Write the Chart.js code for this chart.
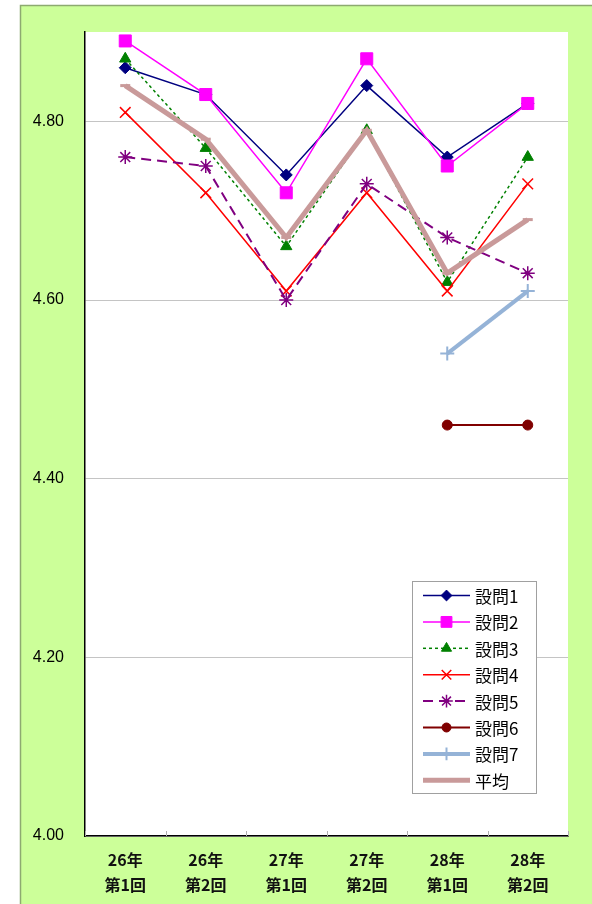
<!DOCTYPE html>
<html>
<head>
<meta charset="utf-8">
<script src="https://cdn.jsdelivr.net/npm/chart.js@4/dist/chart.umd.min.js"></script>
<style>
  html, body { margin: 0; padding: 0; background: #ffffff; }
  #wrap { position: relative; width: 592px; height: 904px; }
</style>
</head>
<body>
<div id="wrap"><canvas id="c" width="592" height="904"></canvas></div>
<script>
// ---- data ----
const categories = [
  ['26年', '第1回'], ['26年', '第2回'],
  ['27年', '第1回'], ['27年', '第2回'],
  ['28年', '第1回'], ['28年', '第2回']
];
const seriesNames = ['設問1', '設問2', '設問3', '設問4', '設問5', '設問6', '設問7', '平均'];
const q1 = [4.86, 4.83, 4.74, 4.84, 4.76, 4.82];
const q2 = [4.89, 4.83, 4.72, 4.87, 4.75, 4.82];
const q3 = [4.87, 4.77, 4.66, 4.79, 4.62, 4.76];
const q4 = [4.81, 4.72, 4.61, 4.72, 4.61, 4.73];
const q5 = [4.76, 4.75, 4.60, 4.73, 4.67, 4.63];
const q6 = [null, null, null, null, 4.46, 4.46];
const q7 = [null, null, null, null, 4.54, 4.61];
const avg = [4.84, 4.78, 4.67, 4.79, 4.63, 4.69];
const yTickValues = [4.00, 4.20, 4.40, 4.60, 4.80];
const yMin = 4.00, yMax = 4.90;

// ---- styles ----
const styles = [
  { color: '#000080', width: 1.5, dash: [],     point: 'rectRot',  radius: 6,   pbw: 1 },
  { color: '#FF00FF', width: 1.5, dash: [],     point: 'rect',     radius: 8.5, pbw: 1 },
  { color: '#008000', width: 1.5, dash: [3, 3], point: 'triangle', radius: 6.5, pbw: 1 },
  { color: '#FF0000', width: 1.5, dash: [],     point: 'crossRot', radius: 7.5, pbw: 1.5 },
  { color: '#800080', width: 2,   dash: [10, 6], point: 'star',    radius: 7,   pbw: 1.5 },
  { color: '#800000', width: 2,   dash: [],     point: 'circle',   radius: 5,   pbw: 1 },
  { color: '#95B3D7', width: 4,   dash: [],     point: 'cross',    radius: 7,   pbw: 2 },
  { color: '#C99A9A', width: 5,   dash: [],     point: 'line',     radius: 5,   pbw: 3 }
];
const seriesData = [q1, q2, q3, q4, q5, q6, q7, avg];

const datasets = seriesData.map((d, i) => ({
  label: seriesNames[i],
  data: d,
  borderColor: styles[i].color,
  backgroundColor: styles[i].color,
  borderWidth: styles[i].width,
  borderDash: styles[i].dash,
  pointStyle: styles[i].point,
  pointRadius: styles[i].radius,
  pointHoverRadius: styles[i].radius,
  pointBorderWidth: styles[i].pbw,
  pointBackgroundColor: styles[i].color,
  pointBorderColor: styles[i].color,
  tension: 0,
  spanGaps: false,
  order: 100 - i
}));

const bgPlugin = {
  id: 'bg',
  beforeDraw(chart) {
    const ctx = chart.ctx;
    const ca = chart.chartArea;
    ctx.save();
    ctx.fillStyle = '#ffffff';
    ctx.fillRect(0, 0, chart.width, chart.height);
    ctx.fillStyle = '#CCFF99';
    ctx.fillRect(20, 5, chart.width - 20, chart.height - 5);
    ctx.strokeStyle = '#8DAA70';
    ctx.lineWidth = 1.5;
    ctx.beginPath();
    ctx.moveTo(20.5, chart.height);
    ctx.lineTo(20.5, 5.5);
    ctx.lineTo(chart.width, 5.5);
    ctx.stroke();
    ctx.fillStyle = '#ffffff';
    ctx.fillRect(ca.left, ca.top, ca.right - ca.left, ca.bottom - ca.top);
    ctx.restore();
  },
  afterDatasetsDraw(chart) {
    // short inside tick marks on the category axis (at category boundaries)
    const ctx = chart.ctx;
    const xs = chart.scales.x;
    ctx.save();
    ctx.strokeStyle = '#b0b0b0';
    ctx.lineWidth = 1;
    for (let i = 0; i <= categories.length; i++) {
      const x = Math.round(xs.getPixelForValue(i - 0.5)) + 0.5;
      ctx.beginPath();
      ctx.moveTo(x, xs.top);
      ctx.lineTo(x, xs.top - 5);
      ctx.stroke();
    }
    ctx.restore();
  }
};

const legendPlugin = {
  id: 'customLegend',
  afterDraw(chart) {
    const ctx = chart.ctx;
    const box = { x: 412, y: 581, w: 124, h: 212 };
    ctx.save();
    ctx.fillStyle = '#ffffff';
    ctx.fillRect(box.x, box.y, box.w, box.h);
    ctx.strokeStyle = '#a0a0a0';
    ctx.lineWidth = 1;
    ctx.strokeRect(box.x + 0.5, box.y + 0.5, box.w, box.h);
    const rowH = 26.4;
    const y0 = box.y + 14.5;
    const lx1 = 423, lx2 = 470, mx = 446.5, tx = 475;
    styles.forEach((s, i) => {
      const y = y0 + i * rowH;
      ctx.save();
      ctx.strokeStyle = s.color;
      ctx.lineWidth = s.width;
      ctx.setLineDash(s.dash);
      ctx.beginPath();
      ctx.moveTo(lx1, y);
      ctx.lineTo(lx2, y);
      ctx.stroke();
      ctx.restore();
      if (s.point !== 'line') {
        ctx.save();
        ctx.fillStyle = s.color;
        ctx.strokeStyle = s.color;
        ctx.lineWidth = s.pbw;
        Chart.helpers.drawPoint(ctx, { pointStyle: s.point, radius: s.radius * 0.9, rotation: 0, borderWidth: s.pbw }, mx, y);
        ctx.restore();
      }
      ctx.fillStyle = '#000000';
      ctx.font = '17px "Noto Sans CJK JP"';
      ctx.textBaseline = 'middle';
      ctx.textAlign = 'left';
      ctx.fillText(seriesNames[i], tx, y + 1);
    });
    ctx.restore();
  }
};

new Chart(document.getElementById('c'), {
  type: 'line',
  data: { labels: categories, datasets: datasets },
  plugins: [bgPlugin, legendPlugin],
  options: {
    responsive: false,
    animation: false,
    events: [],
    layout: { padding: { left: 0, top: 32, right: 24, bottom: 0 } },
    plugins: { legend: { display: false }, tooltip: { enabled: false } },
    scales: {
      x: {
        offset: true,
        grid: { display: false, drawTicks: false },
        border: { display: true, color: '#000000', width: 1.5 },
        ticks: {
          autoSkip: false, maxRotation: 0, minRotation: 0,
          padding: 11,
          color: '#111111',
          font: { family: '"Noto Sans CJK JP"', size: 16, weight: 'bold', lineHeight: '25px' }
        },
        afterFit(scale) { scale.height = 68; }
      },
      y: {
        min: yMin, max: yMax,
        grid: { display: true, drawTicks: false, color: '#c4c4c4', lineWidth: 1 },
        border: { display: true, color: '#000000', width: 1.5 },
        afterBuildTicks(scale) { scale.ticks = yTickValues.map(v => ({ value: v })); },
        ticks: {
          padding: 21,
          color: '#000000',
          font: { family: '"Liberation Sans", Arial, sans-serif', size: 16 },
          callback: (v) => Number(v).toFixed(2)
        },
        afterFit(scale) { scale.width = 85; }
      }
    }
  }
});
</script>
</body>
</html>
